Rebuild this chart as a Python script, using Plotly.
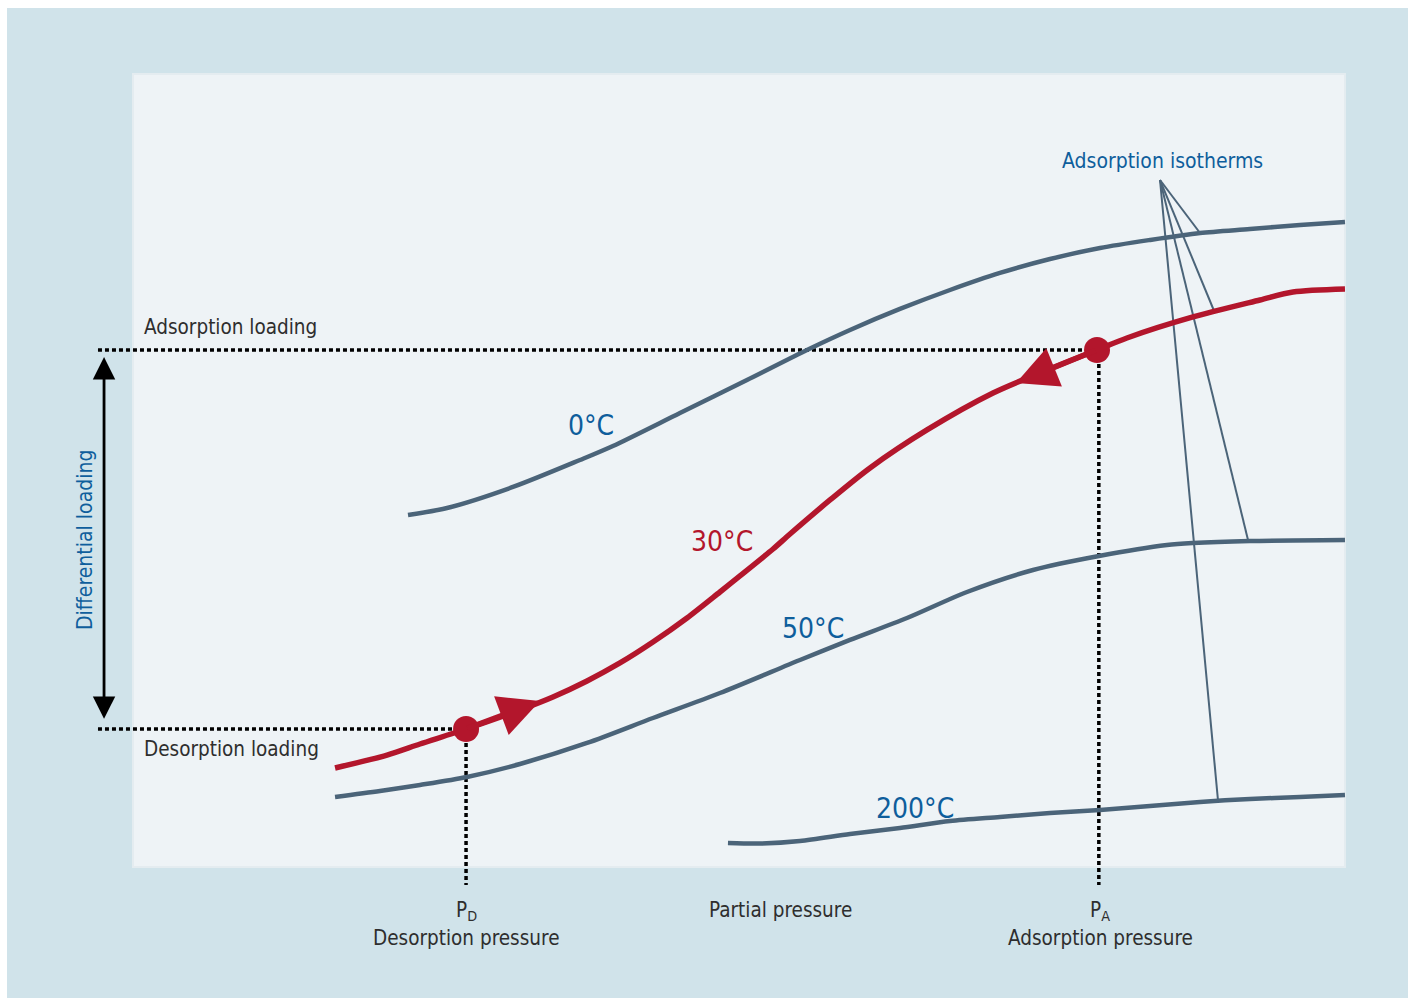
import plotly.graph_objects as go

# ---------------- data (x: partial pressure 0-100, y: loading 0-100) ----------------
x_0c = [22.69, 25.91, 31.35, 36.88, 39.60, 45.13, 50.66, 55.61, 59.16, 63.28, 67.41, 71.53,
        75.66, 79.79, 83.91, 88.04, 92.16, 96.29, 100.0]
y_0c = [44.39, 45.27, 47.92, 51.32, 53.09, 57.25, 61.41, 65.20, 67.72, 70.37, 72.76, 74.91,
        76.67, 78.06, 79.07, 79.95, 80.45, 80.96, 81.34]

x_30c = [16.67, 20.96, 23.68, 27.48, 31.93, 34.65, 37.46, 40.18, 42.90, 45.71, 48.43, 50.08,
         52.81, 54.21, 57.51, 60.81, 65.51, 70.96, 75.41, 79.54, 82.01, 87.46, 92.99, 95.71, 100.0]
y_30c = [12.48, 14.12, 15.51, 17.40, 19.80, 21.44, 23.46, 25.73, 28.37, 31.40, 34.68, 36.70,
         40.10, 41.99, 46.28, 50.32, 55.11, 59.77, 62.67, 65.20, 66.71, 69.36, 71.50, 72.51, 72.89]

x_50c = [16.67, 20.38, 23.68, 27.56, 31.93, 37.46, 42.90, 48.43, 55.03, 59.16, 63.86, 68.81,
         74.26, 79.70, 85.31, 87.46, 92.16, 100.0]
y_50c = [8.83, 9.58, 10.34, 11.35, 12.99, 15.64, 18.79, 21.94, 26.10, 28.63, 31.40, 34.68,
         37.45, 39.22, 40.61, 40.86, 41.11, 41.24]

x_200c = [49.09, 51.73, 55.03, 59.16, 63.28, 67.41, 71.53, 75.66, 79.79, 83.91, 88.04, 92.16,
          96.29, 100.0]
y_200c = [3.03, 2.96, 3.28, 4.16, 4.92, 5.80, 6.31, 6.81, 7.19, 7.69, 8.20, 8.58, 8.83, 9.08]

# operating points: desorption (PD) and adsorption (PA)
p_points_x = [27.48, 79.54]
p_points_y = [17.40, 65.20]

# direction arrow tips on the 30 °C isotherm
arrow_tips_x = [33.58, 72.85]
arrow_tips_y = [20.93, 61.03]

# leader line anchors (label origin -> point on each isotherm)
leader_origin = (84.74, 86.63)
leader_x = [88.04, 89.27, 92.00, 89.52]
leader_y = [79.95, 69.86, 41.24, 8.45]

# ---------------- styling ----------------
W, H = 1408, 998
X_RANGE = [-10.974, 105.2]
Y_RANGE = [-16.52, 109.33]
X_LEFT_GUIDE = -2.89      # left end of dotted loading guides
Y_BOTTOM_GUIDE = -2.27    # bottom end of dotted pressure guides
X_DIFF_ARROW = -2.39

BG_OUT = "#d0e3ea"
BG_IN = "#eef3f6"
SLATE = "#4b6479"
RED = "#b3162c"
BLUE = "#0e5e9c"
DARK = "#2e2e2e"
FONT = "DejaVu Sans Condensed, Liberation Sans Narrow, Roboto, sans-serif"

fig = go.Figure()

DOT = dict(color="black", width=3.5, dash="4px,3px")
# dotted guides
fig.add_trace(go.Scatter(x=[X_LEFT_GUIDE, p_points_x[1]], y=[p_points_y[1], p_points_y[1]],
                         mode="lines", line=DOT, hoverinfo="skip"))
fig.add_trace(go.Scatter(x=[X_LEFT_GUIDE, p_points_x[0]], y=[p_points_y[0], p_points_y[0]],
                         mode="lines", line=DOT, hoverinfo="skip"))
fig.add_trace(go.Scatter(x=[p_points_x[0], p_points_x[0]], y=[p_points_y[0], Y_BOTTOM_GUIDE],
                         mode="lines", line=DOT, hoverinfo="skip"))
fig.add_trace(go.Scatter(x=[p_points_x[1] + 0.15, p_points_x[1] + 0.15], y=[p_points_y[1], Y_BOTTOM_GUIDE],
                         mode="lines", line=DOT, hoverinfo="skip"))

# leader lines
for lx, ly in zip(leader_x, leader_y):
    fig.add_trace(go.Scatter(x=[leader_origin[0], lx], y=[leader_origin[1], ly], mode="lines",
                             line=dict(color=SLATE, width=2), hoverinfo="skip"))

# isotherms
for xs, ys in [(x_0c, y_0c), (x_50c, y_50c), (x_200c, y_200c)]:
    fig.add_trace(go.Scatter(x=xs, y=ys, mode="lines",
                             line=dict(color=SLATE, width=4.5, shape="spline", smoothing=0.8),
                             hoverinfo="skip"))
fig.add_trace(go.Scatter(x=x_30c, y=y_30c, mode="lines",
                         line=dict(color=RED, width=5.5, shape="spline", smoothing=0.8),
                         hoverinfo="skip"))

# operating points
fig.add_trace(go.Scatter(x=p_points_x, y=p_points_y, mode="markers",
                         marker=dict(color=RED, size=26, line=dict(width=0)), hoverinfo="skip"))

shapes = [
    dict(type="rect", xref="paper", yref="paper", x0=7 / W, x1=1.01, y0=-0.01, y1=1 - 8 / H,
         fillcolor=BG_OUT, line=dict(width=0), layer="below"),
    dict(type="rect", xref="x", yref="y", x0=0, x1=100, y0=0, y1=100,
         fillcolor=BG_IN, line=dict(color="#e4ecf0", width=2), layer="below"),
]

ann = []
# direction arrows
for (tx, ty), (sx, sy) in zip(zip(arrow_tips_x, arrow_tips_y),
                              [(p_points_x[0], p_points_y[0]), (p_points_x[1], p_points_y[1])]):
    ann.append(dict(x=tx, y=ty, ax=sx, ay=sy, xref="x", yref="y", axref="x", ayref="y",
                    text="", showarrow=True, arrowhead=2, arrowsize=1.5, arrowwidth=5.5,
                    arrowcolor=RED, standoff=0, startstandoff=0))
# differential loading double arrow
ann.append(dict(x=X_DIFF_ARROW, y=p_points_y[1] - 0.9, ax=X_DIFF_ARROW, ay=p_points_y[0] + 1.1,
                xref="x", yref="y", axref="x", ayref="y", text="", showarrow=True,
                arrowhead=2, arrowsize=1.6, arrowwidth=2.8, arrowside="end+start", arrowcolor="black"))


def txt(s, px, py, color, size, xanchor="center", angle=0):
    ann.append(dict(text=s, x=px / W, y=1 - py / H, xref="paper", yref="paper",
                    showarrow=False, xanchor=xanchor, yanchor="middle", textangle=angle,
                    font=dict(family=FONT, size=size, color=color)))


txt("Adsorption isotherms", 1162, 161, BLUE, 21)
txt("0°C", 591, 425, BLUE, 28)
txt("30°C", 722, 541, RED, 28)
txt("50°C", 813, 628, BLUE, 28)
txt("200°C", 915, 808, BLUE, 28)
txt("Differential loading", 85, 540, BLUE, 21, angle=-90)
txt("Adsorption loading", 142, 327, DARK, 20.5, xanchor="left")
txt("Desorption loading", 142, 749, DARK, 20.5, xanchor="left")
txt("P<sub>D</sub>", 466, 911, DARK, 20.5)
txt("Desorption pressure", 466, 938, DARK, 20.5)
txt("Partial pressure", 780, 910, DARK, 20.5)
txt("P<sub>A</sub>", 1100, 911, DARK, 20.5)
txt("Adsorption pressure", 1100, 938, DARK, 20.5)

fig.update_layout(
    width=W, height=H, autosize=False,
    margin=dict(l=0, r=0, t=0, b=0),
    paper_bgcolor="white", plot_bgcolor="rgba(0,0,0,0)",
    showlegend=False, hovermode=False,
    xaxis=dict(range=X_RANGE, visible=False, fixedrange=True),
    yaxis=dict(range=Y_RANGE, visible=False, fixedrange=True),
    shapes=shapes, annotations=ann,
)

fig.write_html("out.html", config={"displayModeBar": False},
               post_script="document.body.style.margin='0';document.body.style.overflow='hidden';")
